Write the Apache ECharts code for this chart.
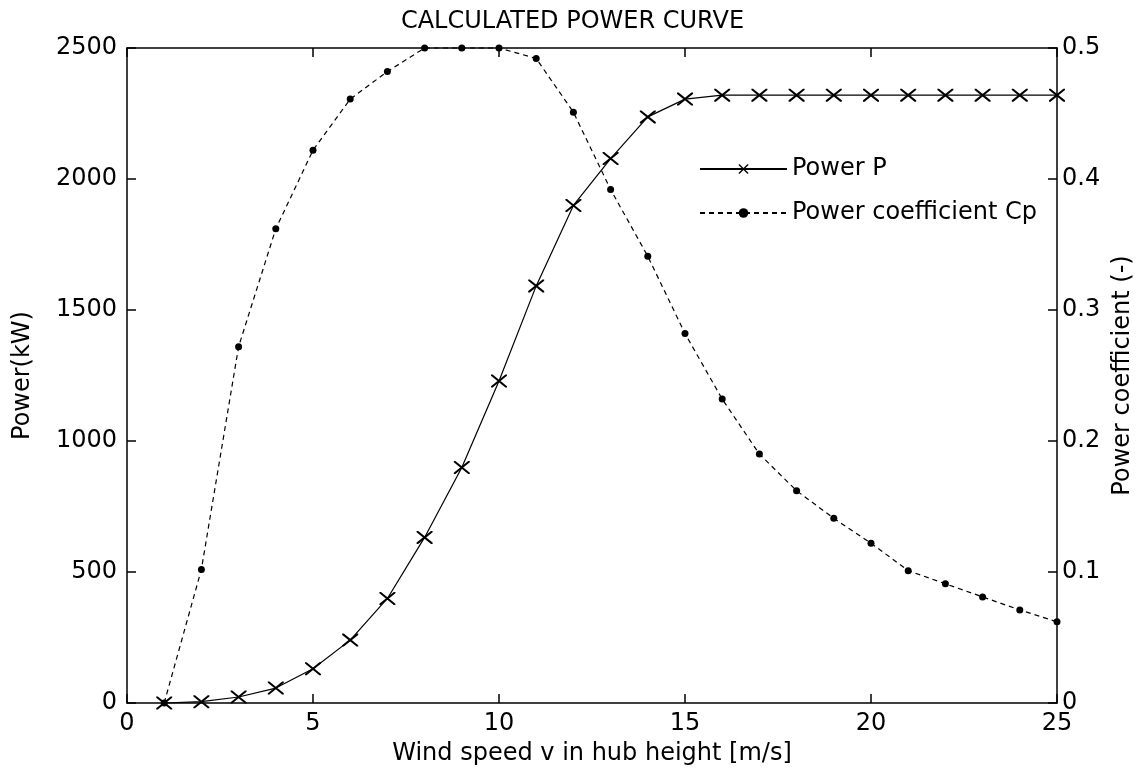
<!DOCTYPE html>
<html>
<head>
<meta charset="utf-8">
<script src="https://cdn.jsdelivr.net/npm/echarts@6/dist/echarts.min.js"></script>
<style>
  html, body { margin: 0; padding: 0; background: #fff; }
  #chart { width: 1145px; height: 778px; }
</style>
</head>
<body>
<div id="chart"></div>
<script>
// wind speed [m/s]
const windSpeed = [1, 2, 3, 4, 5, 6, 7, 8, 9, 10, 11, 12, 13, 14, 15, 16, 17, 18, 19, 20, 21, 22, 23, 24, 25];
// power P [kW]
const power = [0, 5, 23, 57, 131, 240, 399, 632, 899, 1229, 1592, 1899, 2078, 2237, 2305,
  2320, 2320, 2320, 2320, 2320, 2320, 2320, 2320, 2320, 2320];
// power coefficient Cp [-]
const cp = [0, 0.102, 0.272, 0.362, 0.422, 0.461, 0.482, 0.5, 0.5, 0.5, 0.492, 0.451, 0.392,
  0.341, 0.282, 0.232, 0.19, 0.162, 0.141, 0.122, 0.101, 0.091, 0.081, 0.071, 0.062];

const FONT = "DejaVu Sans";
const INK = "#000";
// thin "x" marker
const crossPath = "path://M0,0L1,0L10,9L10,10L9,10L0,1ZM9,0L10,0L10,1L1,10L0,10L0,9Z";

const chart = echarts.init(document.getElementById("chart"), null, { renderer: "canvas" });

const axisText = { color: INK, fontFamily: FONT, fontSize: 24 };
const axisLine = { show: true, onZero: false, lineStyle: { color: INK, width: 1.5 } };
const tick = { show: true, inside: true, length: 9, lineStyle: { color: INK, width: 1.5 } };
const plain = v => String(v);

chart.setOption({
  backgroundColor: "#fff",
  animation: false,
  title: {
    text: "CALCULATED POWER CURVE",
    left: "center",
    top: 5,
    textStyle: { color: INK, fontFamily: FONT, fontSize: 24, fontWeight: "normal" }
  },
  legend: {
    orient: "vertical",
    left: 694,
    top: 152,
    itemWidth: 87,
    itemHeight: 12,
    itemGap: 20,
    textStyle: { color: INK, fontFamily: FONT, fontSize: 24 },
    data: ["Power P", "Power coefficient Cp"]
  },
  grid: { left: 127, right: 88, top: 48, bottom: 75 },
  xAxis: [
    {
      type: "value",
      min: 0,
      max: 25,
      interval: 5,
      position: "bottom",
      name: "Wind speed v in hub height [m/s]",
      nameLocation: "middle",
      nameGap: 39,
      nameTextStyle: axisText,
      axisLine: axisLine,
      axisTick: tick,
      axisLabel: Object.assign({ margin: 9, formatter: plain }, axisText),
      splitLine: { show: false }
    },
    {
      type: "value",
      min: 0,
      max: 25,
      interval: 5,
      position: "top",
      axisLine: axisLine,
      axisTick: tick,
      axisLabel: { show: false },
      splitLine: { show: false }
    }
  ],
  yAxis: [
    {
      type: "value",
      min: 0,
      max: 2500,
      interval: 500,
      position: "left",
      name: "Power(kW)",
      nameLocation: "middle",
      nameRotate: 90,
      nameGap: 92,
      nameTextStyle: axisText,
      axisLine: axisLine,
      axisTick: tick,
      axisLabel: Object.assign({ margin: 10, formatter: plain }, axisText),
      splitLine: { show: false }
    },
    {
      type: "value",
      min: 0,
      max: 0.5,
      interval: 0.1,
      position: "right",
      name: "Power coefficient (-)",
      nameLocation: "middle",
      nameRotate: 90,
      nameGap: 41,
      nameTextStyle: axisText,
      axisLine: axisLine,
      axisTick: tick,
      axisLabel: Object.assign({ margin: 5, formatter: plain }, axisText),
      splitLine: { show: false }
    }
  ],
  series: [
    {
      name: "Power P",
      type: "line",
      xAxisIndex: 0,
      yAxisIndex: 0,
      data: windSpeed.map((v, i) => [v, power[i]]),
      symbol: crossPath,
      symbolSize: [16, 13],
      showAllSymbol: true,
      clip: false,
      itemStyle: { color: INK },
      lineStyle: { color: INK, width: 1.2, type: "solid" }
    },
    {
      name: "Power coefficient Cp",
      type: "line",
      xAxisIndex: 0,
      yAxisIndex: 1,
      data: windSpeed.map((v, i) => [v, cp[i]]),
      symbol: "circle",
      symbolSize: 7,
      showAllSymbol: true,
      clip: false,
      itemStyle: { color: INK },
      lineStyle: { color: INK, width: 1.2, type: [5, 4] }
    }
  ]
});
</script>
</body>
</html>
